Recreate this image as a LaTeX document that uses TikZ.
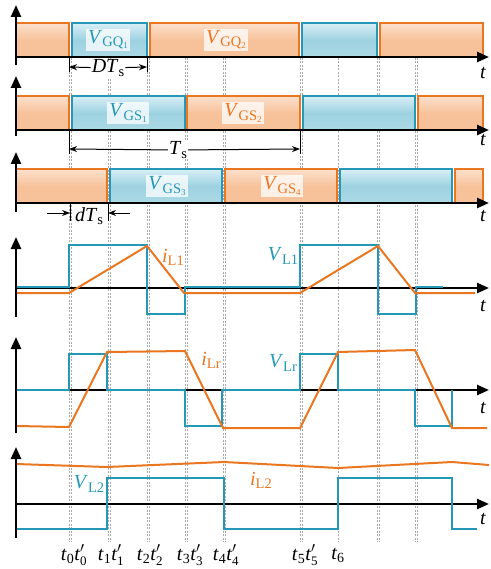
\documentclass[tikz,border=0pt]{standalone}
\usepackage{fontspec}
\setmainfont{Liberation Serif}
\usepackage{tikz}
\usetikzlibrary{arrows.meta}
\definecolor{wforange}{RGB}{234,118,32}
\definecolor{wfblue}{RGB}{36,152,182}
\definecolor{orlight}{RGB}{252,224,204}
\definecolor{ormid}{RGB}{247,194,154}
\definecolor{bllight}{RGB}{216,239,246}
\definecolor{blmid}{RGB}{158,210,225}
\definecolor{tickgray}{RGB}{170,170,170}

\newcommand\lsub[1]{\raisebox{-0.35ex}{\fontsize{14.5}{15}\selectfont #1}}
\newcommand\Vsub[2]{\textit{V}\lsub{#1\raisebox{-0.3ex}{\fontsize{9}{9}\selectfont #2}}}
\newcommand\tpair[1]{\textit{t}\textsubscript{#1}\textit{t}\ensuremath{{}'_{\mbox{\fontsize{13}{13}\selectfont #1}}}}

\begin{document}
\begin{tikzpicture}[x=1pt,y=-1pt,
  every node/.style={font=\fontsize{20}{22}\selectfont,inner sep=1pt},
  axis/.style={line width=2.4pt,-{Triangle[length=12pt,width=10pt]}},
  obar/.style={draw=wforange,line width=1.3pt,top color=orlight,bottom color=ormid,middle color=ormid},
  bbar/.style={draw=wfblue,line width=1.3pt,top color=bllight,bottom color=blmid!85!white,middle color=blmid},
  lbl/.style={fill=white,fill opacity=0.75,text opacity=1,inner sep=2pt},
  tickln/.style={draw=tickgray,line width=0.7pt,dash pattern=on 2pt off 1.5pt},
  dimln/.style={line width=1pt,-{Stealth[length=8pt,width=6pt]}},
  edgeln/.style={line width=1pt},
  bwave/.style={draw=wfblue,line width=2pt},
  owave/.style={draw=wforange,line width=2pt}]
  \useasboundingbox (0,0) rectangle (490,569);

  % time instants
  \foreach \x in {70,109,148,186,224,301,378,416}{
    \draw[tickln] ({\x-1},58) -- ({\x-1},542);
    \draw[tickln] ({\x+1},58) -- ({\x+1},542);
  }
  \draw[tickln] (338,58) -- (338,542);

  % gate signals
  \draw[obar] (16,23) rectangle (69,57);
  \draw[bbar] (72,23) rectangle (147,57);
  \draw[obar] (150,23) rectangle (299,57);
  \draw[bbar] (302,23) rectangle (377,57);
  \draw[obar] (380,23) rectangle (483,57);
  \node[lbl,text=wfblue](gq1) at (108,40){\Vsub{GQ}{1}};
  \node[lbl,text=wforange](gq2) at (226,40){\Vsub{GQ}{2}};

  \draw[obar] (16,96) rectangle (69,130);
  \draw[bbar] (72,96) rectangle (185,130);
  \draw[obar] (187,96) rectangle (300,130);
  \draw[bbar] (303,96) rectangle (415,130);
  \draw[obar] (418,96) rectangle (483,130);
  \node[lbl,text=wfblue](gs1) at (128,113){\Vsub{GS}{1}};
  \node[lbl,text=wforange](gs2) at (243,113){\Vsub{GS}{2}};

  \draw[obar] (16,169) rectangle (107,203);
  \draw[bbar] (110,169) rectangle (222,203);
  \draw[obar] (225,169) rectangle (337,203);
  \draw[bbar] (340,169) rectangle (452,203);
  \draw[obar] (455,169) rectangle (483,203);
  \node[lbl,text=wfblue](gs3) at (167,186){\Vsub{GS}{3}};
  \node[lbl,text=wforange](gs4) at (282,186){\Vsub{GS}{4}};

  % D Ts
  \draw[edgeln] (69,57) -- (69,72);
  \draw[edgeln] (147,57) -- (147,72);
  \node[fill=white](dts) at (108,68){\textit{DT}\lsub{s}};
  \coordinate (dtsl) at (69,67);
  \coordinate (dtsr) at (147,67);
  \draw[dimln] (dts) -- (dtsl);
  \draw[dimln] (dts) -- (dtsr);

  % Ts
  \draw[edgeln] (69,130) -- (69,154);
  \draw[edgeln] (300,130) -- (300,154);
  \node[fill=white](ts) at (178,150){\textit{T}\lsub{s}};
  \coordinate (tsl) at (69,149);
  \coordinate (tsr) at (300,149);
  \draw[dimln] (ts) -- (tsl);
  \draw[dimln] (ts) -- (tsr);

  % d Ts
  \draw[edgeln] (70,203) -- (70,221);
  \draw[edgeln] (108,203) -- (108,221);
  \node(ddts) at (89,216){\textit{dT}\lsub{s}};
  \coordinate (da) at (47,213);
  \coordinate (db) at (70,213);
  \coordinate (dc) at (130,213);
  \coordinate (dd) at (108,213);
  \draw[dimln] (da) -- (db);
  \draw[dimln] (dc) -- (dd);

  % horizontal axes
  \draw[axis] (16,57) -- (489,57);
  \draw[axis] (16,130) -- (489,130);
  \draw[axis] (16,203) -- (489,203);
  \draw[axis] (16,288) -- (489,288);
  \draw[axis] (16,390) -- (489,390);
  \draw[axis] (16,504) -- (489,504);

  % L1
  \draw[bwave] (16,287) -- (69,287) -- (69,245) -- (147,245) -- (147,314) -- (185,314)
    -- (185,287) -- (300,287) -- (300,245) -- (378,245) -- (378,314) -- (416,314)
    -- (416,287) -- (443,287);
  \draw[owave] (16,293) -- (69,293) -- (147,246) -- (184,293) -- (300,293) -- (378,246)
    -- (415,293) -- (475,293);
  \node[text=wforange](il1) at (173,257){\textit{i}\lsub{L1}};
  \node[text=wfblue](vl1) at (283,256){\textit{V}\lsub{L1}};

  % Lr
  \draw[bwave] (16,390) -- (69,390) -- (69,354) -- (107,354) -- (107,390) -- (185,390)
    -- (185,426) -- (222,426) -- (222,390) -- (300,390) -- (300,354) -- (338,354)
    -- (338,390) -- (415,390) -- (415,426) -- (452,426) -- (452,390);
  \draw[owave] (16,426) -- (69,427) -- (107,352) -- (185,351) -- (223,428) -- (300,428)
    -- (338,352) -- (415,350) -- (452,428) -- (487,428);
  \node[text=wforange](ilr) at (211,360){\textit{i}\lsub{Lr}};
  \node[text=wfblue](vlr) at (283,363){\textit{V}\lsub{Lr}};

  % L2
  \draw[bwave] (16,529) -- (107,529) -- (107,478) -- (224,478) -- (224,529) -- (338,529)
    -- (338,478) -- (452,478) -- (452,529) -- (477,529);
  \draw[owave] (16,464) -- (107,467) -- (224,462) -- (338,468) -- (452,462) -- (489,465);
  \node[text=wfblue](vl2) at (89,484){\textit{V}\lsub{L2}};
  \node[text=wforange](il2) at (261,480){\textit{i}\lsub{L2}};

  % vertical axes
  \draw[axis] (16,65) -- (16,5);
  \draw[axis] (16,136) -- (16,76);
  \draw[axis] (16,212) -- (16,152);
  \draw[axis] (16,317) -- (16,237);
  \draw[axis] (16,433) -- (16,337);
  \draw[axis] (16,538) -- (16,447);

  % t labels
  \node(ta) at (483,73){\textit{t}};
  \node(tb) at (483,140){\textit{t}};
  \node(tc) at (483,216){\textit{t}};
  \node(td) at (483,306){\textit{t}};
  \node(te) at (483,408){\textit{t}};
  \node(tf) at (483,519){\textit{t}};

  \node(n0) at (74,555){\tpair{0}};
  \node(n1) at (111,555){\tpair{1}};
  \node(n2) at (150,555){\tpair{2}};
  \node(n3) at (190,555){\tpair{3}};
  \node(n4) at (226,555){\tpair{4}};
  \node(n5) at (305,555){\tpair{5}};
  \node(n6) at (338,555){\textit{t}\textsubscript{6}};
\end{tikzpicture}
\end{document}
